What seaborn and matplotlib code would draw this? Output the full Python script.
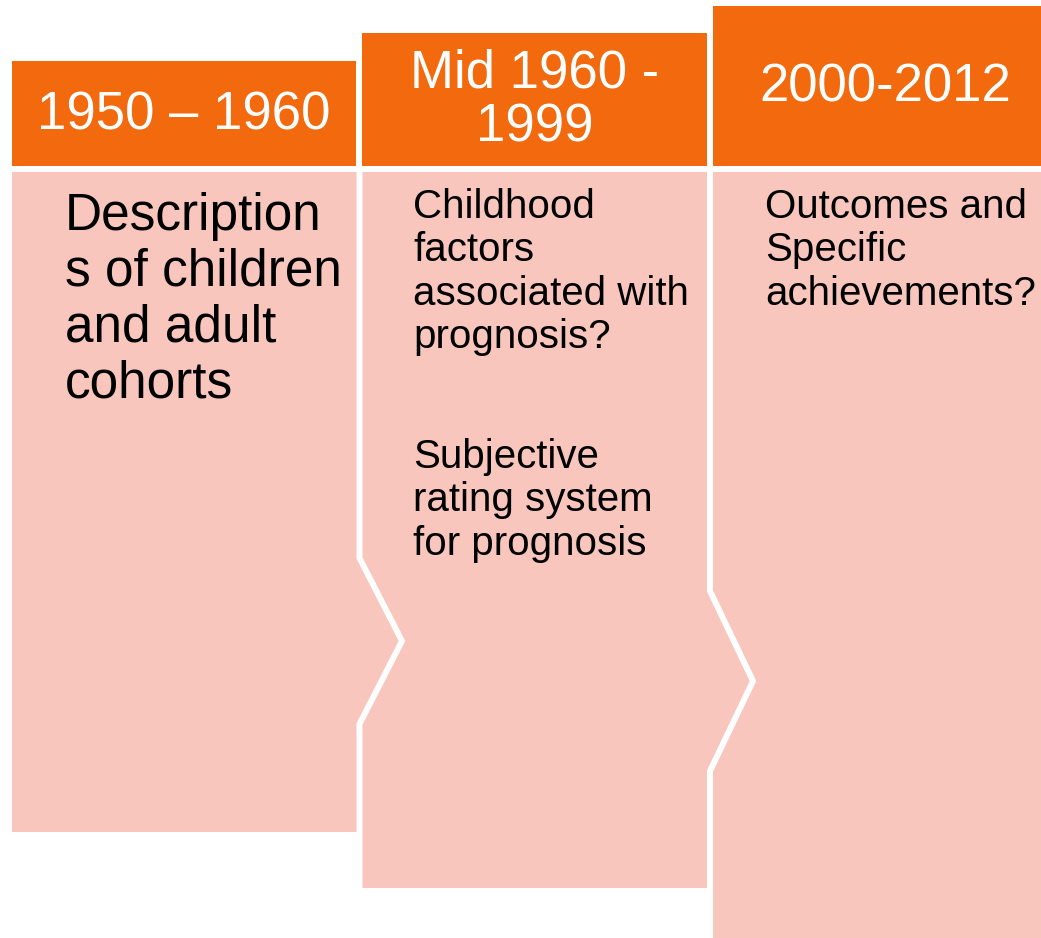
import matplotlib
matplotlib.use("Agg")
import matplotlib.pyplot as plt
import seaborn as sns

# Timeline content
periods = ["1950 \u2013 1960", "Mid 1960 -\n1999", "2000-2012"]
body_paragraphs = [
    [["Description", "s of children", "and adult", "cohorts"]],
    [["Childhood", "factors", "associated with", "prognosis?"],
     ["Subjective", "rating system", "for prognosis"]],
    [["Outcomes and", "Specific", "achievements?"]],
]

# Layout (pixel units, y grows downward)
header_left = [12, 362, 713]
header_right = [356, 707, 1057]
header_top = [61, 33, 6]
header_bottom = 166
header_center = [184, 535, 885]
header_baseline = [[130], [88, 142], [102]]

body_left = [12, 359, 710]
body_right = [359, 710, 1057]
body_top = 172
body_bottom = [832, 888, 938]

text_left = [65, 413, 765]
paragraph_baseline = [[230], [218, 468], [218]]
line_step = [55.7, 43.3, 43.3]
text_size = [37, 29, 29]

# white separators with a chevron: (x, notch top, tip x, tip y, notch bottom, end y)
chevrons = [
    (359.5, 558, 402, 641, 724, 888),
    (710, 591, 753, 681, 771, 938),
]

ORANGE = "#F3690D"
PINK = "#F8C6BC"

sns.set_theme(style="white")
plt.rcParams["font.family"] = ["Liberation Sans", "DejaVu Sans"]

fig = plt.figure(figsize=(10.41, 9.38), dpi=100)
ax = fig.add_axes([0, 0, 1, 1])
ax.set_xlim(0, 1041)
ax.set_ylim(938, 0)
ax.axis("off")

# body panels
for i in range(3):
    ax.bar(body_left[i], body_bottom[i] - body_top, bottom=body_top,
           width=body_right[i] - body_left[i], align="edge", color=PINK,
           linewidth=0)

# white chevron separators
for x, n_top, tip_x, tip_y, n_bot, end_y in chevrons:
    ax.plot([x, x, tip_x, x, x], [header_bottom, n_top, tip_y, n_bot, end_y],
            color="white", linewidth=4.3, solid_capstyle="butt",
            solid_joinstyle="miter")

# header boxes
for i in range(3):
    ax.bar(header_left[i], header_bottom - header_top[i], bottom=header_top[i],
           width=header_right[i] - header_left[i], align="edge",
           color=ORANGE, linewidth=0)

for i, label in enumerate(periods):
    for line, yb in zip(label.split("\n"), header_baseline[i]):
        ax.text(header_center[i], yb, line, color="white", fontsize=38,
                ha="center", va="baseline")

for i, paragraphs in enumerate(body_paragraphs):
    for para, y0 in zip(paragraphs, paragraph_baseline[i]):
        for k, line in enumerate(para):
            ax.text(text_left[i], y0 + k * line_step[i], line, color="black",
                    fontsize=text_size[i], ha="left", va="baseline")

fig.savefig("out.png", dpi=100, facecolor="white")
